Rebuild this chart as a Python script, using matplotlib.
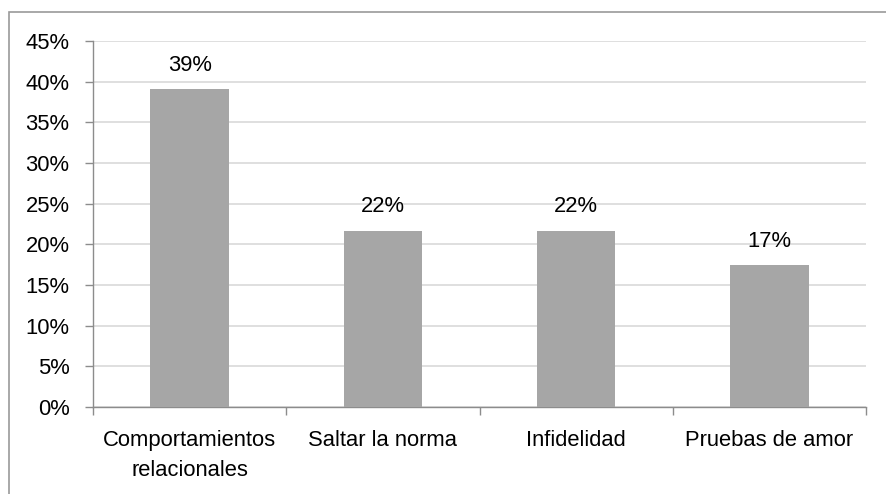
import matplotlib
matplotlib.use('Agg')
from matplotlib import pyplot as plt
from matplotlib.ticker import PercentFormatter, FixedLocator
from matplotlib.patches import Rectangle

categorias = ['Comportamientos\nrelacionales', 'Saltar la norma', 'Infidelidad', 'Pruebas de amor']
valores = [39.1, 21.7, 21.7, 17.4]
etiquetas = ['39%', '22%', '22%', '17%']

plt.rcParams['font.family'] = ['Liberation Sans', 'DejaVu Sans']
plt.rcParams['font.size'] = 15.8

fig = plt.figure(figsize=(8.86, 4.94), dpi=100)
ax = fig.add_axes([93/886, 1-407/494, (866-93)/886, (407-41)/494])

# marco exterior del gráfico
fig.patches.append(Rectangle((9/886, -0.1), 1.1, 1.1 - 12/494, transform=fig.transFigure,
                             fill=False, edgecolor='#9a9a9a', linewidth=1.2))

x = list(range(len(categorias)))
barras = ax.bar(x, valores, width=0.405, color='#a6a6a6', zorder=3)

for b, txt in zip(barras, etiquetas):
    ax.annotate(txt, (b.get_x() + b.get_width()/2, b.get_height()),
                xytext=(0, 9.5), textcoords='offset points', ha='center', va='bottom')

ax.set_xlim(-0.5, len(categorias) - 0.5)
ax.set_ylim(0, 45)
ax.set_yticks(range(0, 46, 5))
ax.yaxis.set_major_formatter(PercentFormatter(decimals=0))
ax.yaxis.grid(True, color='#d9d9d9', linewidth=1.2, zorder=0)

ax.set_xticks(x)
ax.set_xticklabels(categorias, linespacing=1.55)
ax.xaxis.set_minor_locator(FixedLocator([i - 0.5 for i in range(len(categorias) + 1)]))
ax.tick_params(axis='x', which='major', length=0, pad=16.5)
ax.tick_params(axis='x', which='minor', length=6, color='#8c8c8c', width=1)
ax.tick_params(axis='y', length=6, color='#8c8c8c', width=1, pad=11)

for s in ['top', 'right']:
    ax.spines[s].set_visible(False)
for s in ['left', 'bottom']:
    ax.spines[s].set_color('#8c8c8c')
    ax.spines[s].set_linewidth(1)

fig.savefig('out.png', dpi=100)
